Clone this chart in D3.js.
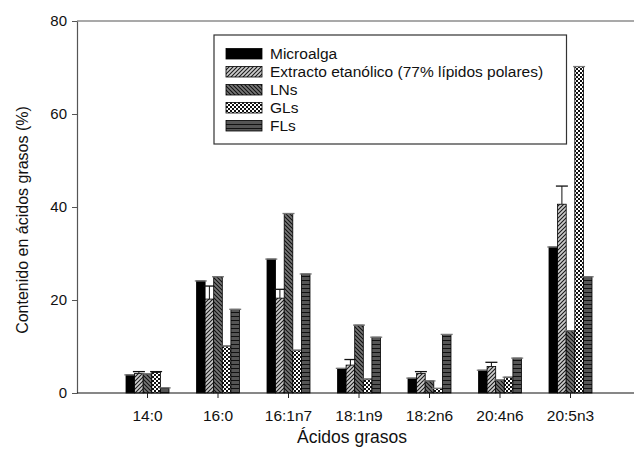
<!DOCTYPE html>
<html>
<head>
<meta charset="utf-8">
<script src="https://cdn.jsdelivr.net/npm/d3@7"></script>
<style>
  body { margin: 0; background: #fff; }
  svg text { font-family: "Liberation Sans", Arial, sans-serif; fill: #111; }
</style>
</head>
<body>
<svg id="chart" width="634" height="453"></svg>
<script>
// data
const categories = ["14:0", "16:0", "16:1n7", "18:1n9", "18:2n6", "20:4n6", "20:5n3"];
const seriesNames = ["Microalga", "Extracto etanólico (77% lípidos polares)", "LNs", "GLs", "FLs"];
const microalga = [3.9, 24.1, 28.8, 5.3, 3.2, 4.9, 31.4];
const extracto  = [4.2, 20.2, 20.4, 6.0, 4.2, 5.7, 40.6];
const lns       = [4.1, 25.0, 38.6, 14.6, 2.6, 2.8, 13.4];
const gls       = [4.4, 10.1, 9.2, 3.0, 1.0, 3.4, 70.2];
const fls       = [1.1, 18.0, 25.6, 12.0, 12.6, 7.5, 25.0];
const errExtracto = [0.4, 2.8, 1.9, 1.2, 0.4, 0.9, 3.9];
const yTicks = [0, 20, 40, 60, 80];

const values = [microalga, extracto, lns, gls, fls];
const errors = [
  [0, 0, 0, 0, 0, 0, 0],
  errExtracto,
  [0, 0, 0, 0, 0, 0, 0],
  [0.2, 0, 0, 0, 0, 0, 0],
  [0, 0, 0, 0, 0, 0, 0]
];
const fills = ["#000", "url(#pExt)", "url(#pLN)", "url(#pGL)", "url(#pFL)"];

const svg = d3.select("#chart");
const mLeft = 77, mTop = 21, mBottom = 393;

// patterns
const defs = svg.append("defs");
function pattern(id, w, h, bg) {
    const p = defs.append("pattern").attr("id", id)
        .attr("patternUnits", "userSpaceOnUse").attr("width", w).attr("height", h);
    p.append("rect").attr("width", w).attr("height", h).attr("fill", bg);
    return p;
}
pattern("pExt", 4, 4, "#cdcdcd").append("path")
    .attr("d", "M-1,1 l2,-2 M0,4 l4,-4 M3,5 l2,-2")
    .attr("stroke", "#1a1a1a").attr("stroke-width", 1.1);
pattern("pLN", 4, 4, "#777").append("path")
    .attr("d", "M-1,3 l2,2 M0,0 l4,4 M3,-1 l2,2")
    .attr("stroke", "#111").attr("stroke-width", 1.1);
const pg = pattern("pGL", 4, 4, "#fff");
pg.append("rect").attr("width", 2).attr("height", 2).attr("fill", "#111");
pg.append("rect").attr("x", 2).attr("y", 2).attr("width", 2).attr("height", 2).attr("fill", "#111");
pattern("pFL", 4, 4, "#555").append("path")
    .attr("d", "M0,0.5 h4")
    .attr("stroke", "#111").attr("stroke-width", 1);

const x = d3.scaleBand().domain(categories).range([mLeft, 641]).paddingInner(0).paddingOuter(0.5);
const xs = d3.scaleBand().domain(d3.range(seriesNames.length)).range([-21.5, 21.5]);
const y = d3.scaleLinear().domain([0, 80]).range([mBottom, mTop]);

// frame line at the top
svg.append("line").attr("x1", mLeft).attr("x2", 634).attr("y1", mTop).attr("y2", mTop)
    .attr("stroke", "#555").attr("stroke-width", 1.2);

// bars
values.forEach(function(vals, s) {
    const g = svg.append("g");
    categories.forEach(function(c, i) {
        const cx = x(c) + x.bandwidth() / 2;
        const bx = cx + xs(s);
        const bw = xs.bandwidth();
        g.append("rect")
            .attr("x", bx).attr("y", y(vals[i]))
            .attr("width", bw).attr("height", y(0) - y(vals[i]))
            .attr("fill", fills[s]).attr("stroke", "#000").attr("stroke-width", 0.8);
        const e = errors[s][i];
        const mid = bx + bw / 2;
        if (e > 0) {
            g.append("line").attr("x1", mid).attr("x2", mid)
                .attr("y1", y(vals[i])).attr("y2", y(vals[i] + e))
                .attr("stroke", "#111").attr("stroke-width", 1);
        }
        g.append("line").attr("x1", mid - 6).attr("x2", mid + 6)
            .attr("y1", y(vals[i] + e)).attr("y2", y(vals[i] + e))
            .attr("stroke", e > 0 ? "#111" : "#777").attr("stroke-width", 1.3);
    });
});

// axes
const yAxis = svg.append("g").attr("transform", "translate(" + mLeft + ",0)")
    .call(d3.axisLeft(y).tickValues(yTicks).tickSize(5).tickSizeOuter(0).tickPadding(5));
yAxis.select(".domain").attr("stroke", "#555").attr("stroke-width", 1.2);
yAxis.selectAll(".tick line").attr("stroke", "#555");
yAxis.selectAll("text").style("font-size", "15px");

const xAxis = svg.append("g").attr("transform", "translate(0," + mBottom + ")")
    .call(d3.axisBottom(x).tickSize(5).tickSizeOuter(0).tickPadding(12));
xAxis.select(".domain").remove();
xAxis.selectAll(".tick line").attr("stroke", "#222");
xAxis.selectAll("text").style("font-size", "15.5px");
svg.append("line").attr("x1", mLeft).attr("x2", 634).attr("y1", mBottom).attr("y2", mBottom)
    .attr("stroke", "#111").attr("stroke-width", 1.2);

// axis titles
svg.append("text").attr("x", 352).attr("y", 443).attr("text-anchor", "middle")
    .style("font-size", "17.5px").text("Ácidos grasos");
svg.append("text").attr("transform", "translate(28,220) rotate(-90)")
    .attr("text-anchor", "middle").style("font-size", "16px")
    .text("Contenido en ácidos grasos (%)");

// legend
const lg = svg.append("g");
lg.append("rect").attr("x", 214).attr("y", 35).attr("width", 352.5).attr("height", 109)
    .attr("fill", "#fff").attr("stroke", "#333").attr("stroke-width", 1.2);
seriesNames.forEach(function(n, s) {
    const yy = 48.5 + s * 18;
    lg.append("rect").attr("x", 226).attr("y", yy).attr("width", 36).attr("height", 10.5)
        .attr("fill", fills[s]).attr("stroke", "#000").attr("stroke-width", 0.8);
    lg.append("text").attr("x", 270).attr("y", yy + 5.5).attr("dy", "0.35em")
        .style("font-size", "15.5px").text(n);
});
</script>
</body>
</html>
